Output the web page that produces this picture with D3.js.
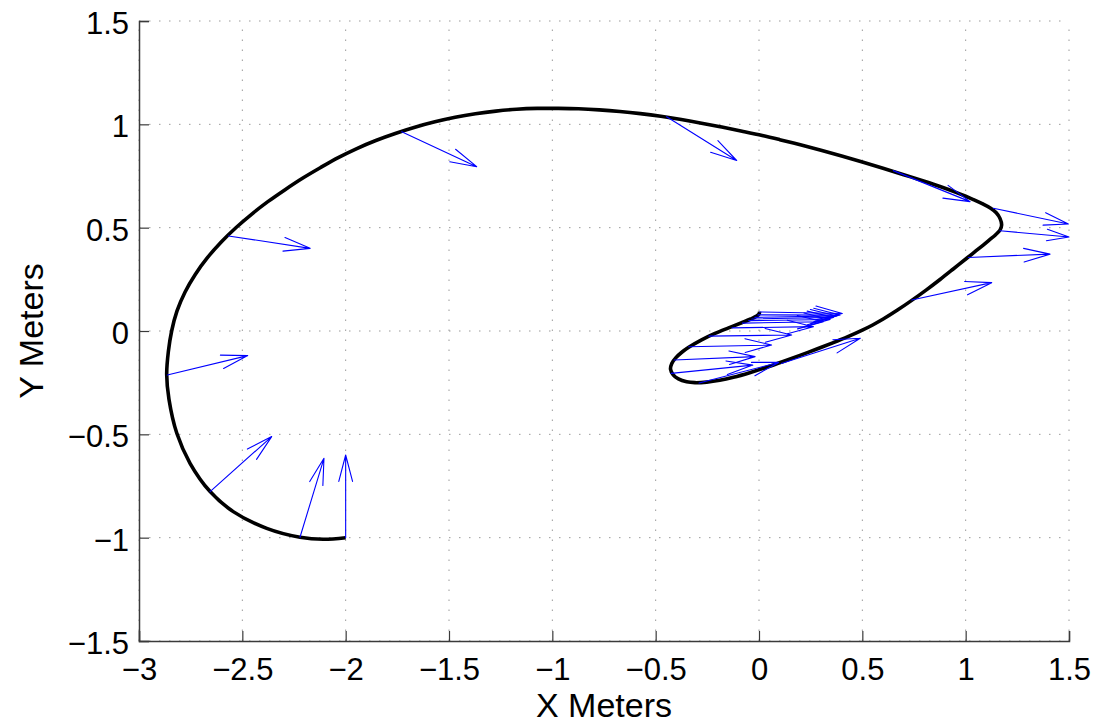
<!DOCTYPE html>
<html>
<head>
<meta charset="utf-8">
<script src="https://cdn.jsdelivr.net/npm/d3@7"></script>
<style>
  html, body { margin: 0; padding: 0; background: #fff; }
  svg { display: block; }
  text { font-family: "Liberation Sans", Arial, Helvetica, sans-serif; fill: #000; }
</style>
</head>
<body>
<svg id="chart" width="1113" height="724"></svg>
<script>
// ---- data ----
const xTicks = [-3, -2.5, -2, -1.5, -1, -0.5, 0, 0.5, 1, 1.5];
const xTickLabels = ["\u22123", "\u22122.5", "\u22122", "\u22121.5", "\u22121", "\u22120.5", "0", "0.5", "1", "1.5"];
const yTicks = [-1.5, -1, -0.5, 0, 0.5, 1, 1.5];
const yTickLabels = ["\u22121.5", "\u22121", "\u22120.5", "0", "0.5", "1", "1.5"];
const xLabel = "X Meters";
const yLabel = "Y Meters";

// trajectory (black line)
const pathX = [-2.0, -2.108, -2.221, -2.382, -2.544, -2.656, -2.753, -2.817, -2.855, -2.866, -2.858, -2.842,
  -2.816, -2.777, -2.727, -2.668, -2.602, -2.530, -2.454, -2.375, -2.293, -2.209, -2.123, -2.036, -1.946, -1.854,
  -1.760, -1.665, -1.568, -1.470, -1.372, -1.273, -1.173, -1.073, -0.973,
  -0.873, -0.773, -0.673, -0.574, -0.475, -0.376, -0.278, -0.18, -0.082, 0.016,
  0.1, 0.2, 0.3, 0.4, 0.5, 0.6, 0.7, 0.8, 0.876, 0.95, 1.0, 1.037, 1.08, 1.121, 1.148, 1.166, 1.174, 1.166, 1.145,
  1.115, 1.085, 1.045, 1.005,
  0.94, 0.876, 0.81, 0.739, 0.67, 0.601, 0.55, 0.5, 0.43, 0.36, 0.28, 0.198, 0.117, 0.037, -0.045, -0.124, -0.19,
  -0.253, -0.31,
  -0.35, -0.39, -0.415, -0.428, -0.422, -0.403, -0.375, -0.342, -0.28, -0.213, -0.15, -0.084, -0.04, -0.012, 0.0, 0.003];
const pathY = [-1.0, -1.008, -0.998, -0.955, -0.874, -0.777, -0.64, -0.495, -0.33, -0.21, -0.1, 0.0,
  0.097, 0.189, 0.275, 0.356, 0.431, 0.501, 0.566, 0.627, 0.684, 0.739, 0.790, 0.839, 0.883, 0.922,
  0.956, 0.986, 1.012, 1.034, 1.051, 1.064, 1.073, 1.077, 1.077,
  1.0753, 1.0701, 1.0622, 1.0517, 1.0387, 1.0231, 1.0057, 0.9866, 0.9667, 0.9459,
  0.926, 0.901, 0.8745, 0.8465, 0.8175, 0.7875, 0.7565, 0.7245, 0.699, 0.672, 0.652, 0.636, 0.616, 0.594, 0.572,
  0.545, 0.513, 0.488, 0.466, 0.441, 0.416, 0.384, 0.352,
  0.300, 0.2494, 0.1992, 0.1481, 0.1012, 0.0577, 0.0291, 0.0041, -0.0274, -0.0561, -0.0873, -0.118, -0.1476,
  -0.1756, -0.2018, -0.2239, -0.2384, -0.2472, -0.25,
  -0.246, -0.232, -0.212, -0.185, -0.157, -0.13, -0.104, -0.08, -0.044, -0.012, 0.014, 0.04, 0.058, 0.072, 0.082, 0.094];

// quiver arrows: tail (arrowX, arrowY), vector (arrowU, arrowV)
const arrowX = [-2.0, -2.221, -2.656, -2.863, -2.567, -1.729, -0.447, 0.65, 1.134, 1.166, 1.013, 0.739,
  0.003, -0.005, -0.02, -0.035, -0.05, -0.08, -0.13, -0.242, -0.34, -0.41, -0.425, -0.29, 0.108];
const arrowY = [-1.0, -0.998, -0.777, -0.213, 0.46, 0.964, 1.037, 0.776, 0.594, 0.485, 0.356, 0.15,
  0.092, 0.078, 0.066, 0.058, 0.05, 0.038, 0.015, -0.025, -0.076, -0.14, -0.205, -0.252, -0.157];
const arrowU = [0.0, 0.116, 0.298, 0.389, 0.395, 0.363, 0.339, 0.371, 0.363, 0.334, 0.395, 0.387,
  0.4, 0.397, 0.396, 0.395, 0.394, 0.391, 0.393, 0.4, 0.401, 0.391, 0.395, 0.385, 0.382];
const arrowV = [0.4, 0.382, 0.266, 0.094, -0.06, -0.169, -0.212, -0.15, -0.076, -0.03, 0.016, 0.084,
  -0.007, -0.001, 0.007, 0.008, 0.006, 0.007, 0.006, 0.006, 0.008, 0.016, 0.04, 0.1, 0.122];

// ---- drawing ----
const svg = d3.select("#chart");
const x = d3.scaleLinear().domain([-3, 1.5]).range([139, 1069]);
const y = d3.scaleLinear().domain([-1.5, 1.5]).range([641, 21]);

// grid
const grid = svg.append("g");
grid.selectAll("line.gx").data(xTicks).join("line")
  .attr("x1", d => x(d)).attr("x2", d => x(d))
  .attr("y1", y(-1.5)).attr("y2", y(1.5))
  .attr("stroke", "#9a9a9a").attr("stroke-width", 1).attr("stroke-dasharray", "1.5,8.5");
grid.selectAll("line.gy").data(yTicks).join("line")
  .attr("y1", d => y(d)).attr("y2", d => y(d))
  .attr("x1", x(-3)).attr("x2", x(1.5))
  .attr("stroke", "#9a9a9a").attr("stroke-width", 1).attr("stroke-dasharray", "1.5,8.5");

// axes
const xAxis = d3.axisBottom(x).tickValues(xTicks)
  .tickFormat((d, i) => xTickLabels[i]).tickSize(-10).tickPadding(17);
const yAxis = d3.axisLeft(y).tickValues(yTicks)
  .tickFormat((d, i) => yTickLabels[i]).tickSize(-10).tickPadding(10);

const gx = svg.append("g").attr("transform", `translate(0,${y(-1.5)})`).call(xAxis);
const gy = svg.append("g").attr("transform", `translate(${x(-3)},0)`).call(yAxis);
[gx, gy].forEach(g => {
  g.select(".domain").attr("stroke", "#3a3a3a").attr("stroke-width", 1.5);
  g.selectAll(".tick line").attr("stroke", "#3a3a3a").attr("stroke-width", 1.2);
  g.selectAll(".tick text").style("font-family", "'Liberation Sans', Arial, sans-serif")
    .style("font-size", "31px").attr("fill", "#000");
});
gy.selectAll(".tick text").attr("dy", "0.40em");

// axis labels
svg.append("text").attr("x", (x(-3) + x(1.5)) / 2).attr("y", 717)
  .attr("text-anchor", "middle").style("font-size", "34px").text(xLabel);
svg.append("text").attr("transform", `translate(43,${(y(-1.5) + y(1.5)) / 2}) rotate(-90)`)
  .attr("text-anchor", "middle").style("font-size", "34px").text(yLabel);

// trajectory
const pts = pathX.map((d, i) => [d, pathY[i]]);
const line = d3.line().x(d => x(d[0])).y(d => y(d[1])).curve(d3.curveCatmullRom.alpha(0.5));
svg.append("path").attr("d", line(pts)).attr("fill", "none")
  .attr("stroke", "#000").attr("stroke-width", 3.6).attr("stroke-linejoin", "round").attr("stroke-linecap", "butt");

// quiver arrows (MATLAB-style heads)
const alpha = 0.32, beta = 0.26;
const arrows = arrowX.map((d, i) => ({ x: d, y: arrowY[i], u: arrowU[i], v: arrowV[i] }));
const qg = svg.append("g").attr("fill", "none").attr("stroke", "#0000ff").attr("stroke-width", 1.1)
  .attr("stroke-linecap", "round").attr("stroke-linejoin", "round");
qg.selectAll("path").data(arrows).join("path").attr("d", a => {
  const x0 = x(a.x), y0 = y(a.y), x1 = x(a.x + a.u), y1 = y(a.y + a.v);
  const du = x1 - x0, dv = y1 - y0;
  const b1x = x1 - alpha * (du + beta * dv), b1y = y1 - alpha * (dv - beta * du);
  const b2x = x1 - alpha * (du - beta * dv), b2y = y1 - alpha * (dv + beta * du);
  return `M${x0},${y0}L${x1},${y1}M${b1x},${b1y}L${x1},${y1}L${b2x},${b2y}`;
});
</script>
</body>
</html>
